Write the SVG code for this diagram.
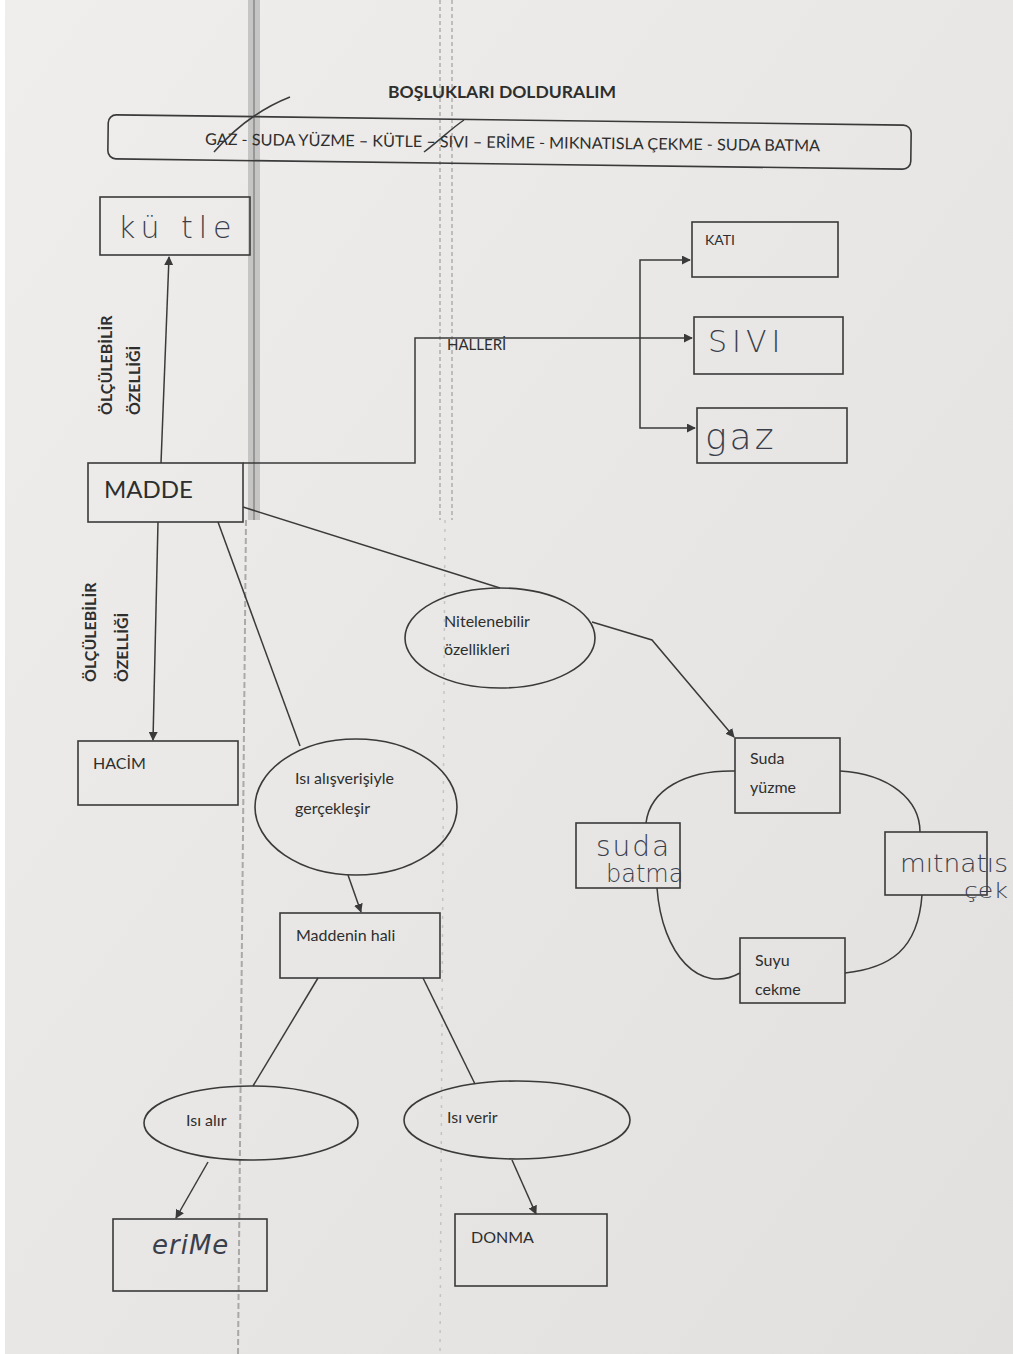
<svg xmlns="http://www.w3.org/2000/svg" width="1013" height="1354" viewBox="0 0 1013 1354">
  <defs>
    <marker id="arrow" viewBox="0 0 10 10" refX="9" refY="5" markerWidth="9" markerHeight="9" markerUnits="userSpaceOnUse" orient="auto">
      <path d="M0,0 L10,5 L0,10 z" fill="#3a3a3a"/>
    </marker>
    <linearGradient id="paper" x1="0" y1="0" x2="1" y2="1">
      <stop offset="0" stop-color="#efeeec"/>
      <stop offset="0.5" stop-color="#e8e7e5"/>
      <stop offset="1" stop-color="#e1e0de"/>
    </linearGradient>
    <style>
      .box { fill: none; stroke: #3a3a3a; stroke-width: 1.6; }
      .line { fill: none; stroke: #3a3a3a; stroke-width: 1.5; }
      .t { font-family: Lato, "Open Sans", "Liberation Sans", sans-serif; fill: #2e2e2e; }
      .lbl { font-size: 16px; }
      .bold { font-weight: bold; }
      .hand { font-family: "DejaVu Sans", "Liberation Sans", sans-serif; fill: #3b3f4c; font-weight: 300; }
    </style>
  </defs>

  <!-- sheet -->
  <rect x="0" y="0" width="1013" height="1354" fill="#ffffff"/>
  <rect x="5" y="0" width="1008" height="1354" fill="url(#paper)"/>
  <!-- copier streaks -->
  <g opacity="0.55">
    <rect x="248" y="0" width="12" height="520" fill="#8a8a8a" opacity="0.7"/>
    <line x1="254" y1="0" x2="254" y2="520" stroke="#555" stroke-width="2"/>
    <line x1="246" y1="520" x2="238" y2="1354" stroke="#777" stroke-width="2" stroke-dasharray="6 3"/>
    <line x1="440" y1="0" x2="440" y2="520" stroke="#999" stroke-width="2" stroke-dasharray="4 3"/>
    <line x1="452" y1="0" x2="452" y2="520" stroke="#999" stroke-width="2" stroke-dasharray="4 3"/>
    <line x1="445" y1="520" x2="440" y2="1354" stroke="#aaa" stroke-width="1.5" stroke-dasharray="3 6"/>
  </g>

  <!-- heading -->
  <g id="title">
    <text class="t bold" x="502" y="98" font-size="17" text-anchor="middle" textLength="228" lengthAdjust="spacingAndGlyphs">BOŞLUKLARI DOLDURALIM</text>
  </g>
  <g id="word-list">
    <rect x="108" y="120" width="803" height="44" rx="8" class="box" transform="rotate(0.75 510 143)"/>
    <text class="t" x="205" y="148" font-size="16" textLength="615" lengthAdjust="spacingAndGlyphs" transform="rotate(0.6 510 143)">GAZ - SUDA YÜZME – KÜTLE – SIVI – ERİME - MIKNATISLA ÇEKME - SUDA BATMA</text>
    <!-- crossed-out words -->
    <path d="M214,152 C235,128 262,108 290,97" class="line" stroke="#4a4d58"/>
    <path d="M424,152 C440,140 452,128 464,120" class="line" stroke="#4a4d58"/>
  </g>

  <!-- connectors -->
  <g id="connectors">
    <line x1="161" y1="463" x2="169" y2="257" class="line" marker-end="url(#arrow)"/>
    <polyline points="243,463 415,463 415,338 692,338" class="line" marker-end="url(#arrow)"/>
    <polyline points="640,338 640,260 690,260" class="line" marker-end="url(#arrow)"/>
    <polyline points="640,338 640,428 695,428" class="line" marker-end="url(#arrow)"/>
    <line x1="158" y1="522" x2="153" y2="740" class="line" marker-end="url(#arrow)"/>
    <line x1="218" y1="522" x2="300" y2="746" class="line"/>
    <line x1="243" y1="507" x2="500" y2="588" class="line"/>
    <polyline points="592,622 652,640 734,737" class="line" marker-end="url(#arrow)"/>
    <line x1="348" y1="875" x2="361" y2="912" class="line" marker-end="url(#arrow)"/>
    <line x1="318" y1="978" x2="253" y2="1086" class="line"/>
    <line x1="423" y1="978" x2="475" y2="1084" class="line"/>
    <line x1="208" y1="1162" x2="176" y2="1218" class="line" marker-end="url(#arrow)"/>
    <line x1="512" y1="1160" x2="536" y2="1214" class="line" marker-end="url(#arrow)"/>
    <!-- ring of properties -->
    <path d="M735,771 C685,770 650,790 646,823" class="line"/>
    <path d="M840,771 C890,774 920,800 920,832" class="line"/>
    <path d="M657,888 C662,955 700,995 740,973" class="line"/>
    <path d="M922,895 C918,950 890,968 845,973" class="line"/>
  </g>

  <!-- rotated labels -->
  <g id="label-kutle-link">
    <text class="t bold" font-size="16" transform="translate(112 415) rotate(-90)">ÖLÇÜLEBİLİR</text>
    <text class="t bold" font-size="16" transform="translate(140 415) rotate(-90)">ÖZELLİĞİ</text>
  </g>
  <g id="label-hacim-link">
    <text class="t bold" font-size="16" transform="translate(96 682) rotate(-90)">ÖLÇÜLEBİLİR</text>
    <text class="t bold" font-size="16" transform="translate(128 682) rotate(-90)">ÖZELLİĞİ</text>
  </g>
  <g id="label-halleri">
    <text class="t" x="447" y="350" font-size="15">HALLERİ</text>
  </g>

  <!-- nodes -->
  <g id="kutle">
    <rect x="100" y="197" width="150" height="58" class="box"/>
    <text class="hand" x="118" y="238" font-size="30" letter-spacing="6">kü tle</text>
  </g>
  <g id="madde">
    <rect x="88" y="463" width="155" height="59" class="box"/>
    <text class="t" x="104" y="498" font-size="24">MADDE</text>
  </g>
  <g id="kati">
    <rect x="692" y="222" width="146" height="55" class="box"/>
    <text class="t" x="705" y="245" font-size="14">KATI</text>
  </g>
  <g id="sivi">
    <rect x="694" y="317" width="149" height="57" class="box"/>
    <text class="hand" x="708" y="352" font-size="30" letter-spacing="5">SIVI</text>
  </g>
  <g id="gaz">
    <rect x="697" y="408" width="150" height="55" class="box"/>
    <text class="hand" x="705" y="449" font-size="36" letter-spacing="3">gaz</text>
  </g>
  <g id="hacim">
    <rect x="78" y="741" width="160" height="64" class="box"/>
    <text class="t" x="93" y="769" font-size="16">HACİM</text>
  </g>
  <g id="nitelenebilir">
    <ellipse cx="500" cy="638" rx="95" ry="50" class="box"/>
    <text class="t lbl" x="444" y="627">Nitelenebilir</text>
    <text class="t lbl" x="444" y="655">özellikleri</text>
  </g>
  <g id="isi-alisverisi">
    <ellipse cx="356" cy="807" rx="101" ry="68" class="box"/>
    <text class="t lbl" x="295" y="784">Isı alışverişiyle</text>
    <text class="t lbl" x="295" y="814">gerçekleşir</text>
  </g>
  <g id="maddenin-hali">
    <rect x="280" y="913" width="160" height="65" class="box"/>
    <text class="t lbl" x="296" y="941">Maddenin hali</text>
  </g>
  <g id="isi-alir">
    <ellipse cx="251" cy="1123" rx="107" ry="37" class="box"/>
    <text class="t lbl" x="186" y="1126">Isı alır</text>
  </g>
  <g id="isi-verir">
    <ellipse cx="517" cy="1120" rx="113" ry="39" class="box"/>
    <text class="t lbl" x="447" y="1123">Isı verir</text>
  </g>
  <g id="erime">
    <rect x="113" y="1219" width="154" height="72" class="box"/>
    <text class="hand" x="152" y="1254" font-size="26" font-style="italic" letter-spacing="1">eriMe</text>
  </g>
  <g id="donma">
    <rect x="455" y="1214" width="152" height="72" class="box"/>
    <text class="t lbl" x="471" y="1243">DONMA</text>
  </g>
  <g id="suda-yuzme">
    <rect x="735" y="738" width="105" height="75" class="box"/>
    <text class="t lbl" x="750" y="764">Suda</text>
    <text class="t lbl" x="750" y="793">yüzme</text>
  </g>
  <g id="suda-batma">
    <rect x="576" y="823" width="104" height="65" class="box"/>
    <text class="hand" x="596" y="856" font-size="28" letter-spacing="2">suda</text>
    <text class="hand" x="606" y="882" font-size="24">batma</text>
  </g>
  <g id="miknatis">
    <rect x="885" y="832" width="102" height="63" class="box"/>
    <text class="hand" x="900" y="872" font-size="24" textLength="108" lengthAdjust="spacingAndGlyphs">mıtnatıs</text>
    <text class="hand" x="964" y="898" font-size="22" textLength="44" lengthAdjust="spacingAndGlyphs">çek</text>
  </g>
  <g id="suyu-cekme">
    <rect x="740" y="938" width="105" height="65" class="box"/>
    <text class="t lbl" x="755" y="966">Suyu</text>
    <text class="t lbl" x="755" y="995">cekme</text>
  </g>
</svg>
